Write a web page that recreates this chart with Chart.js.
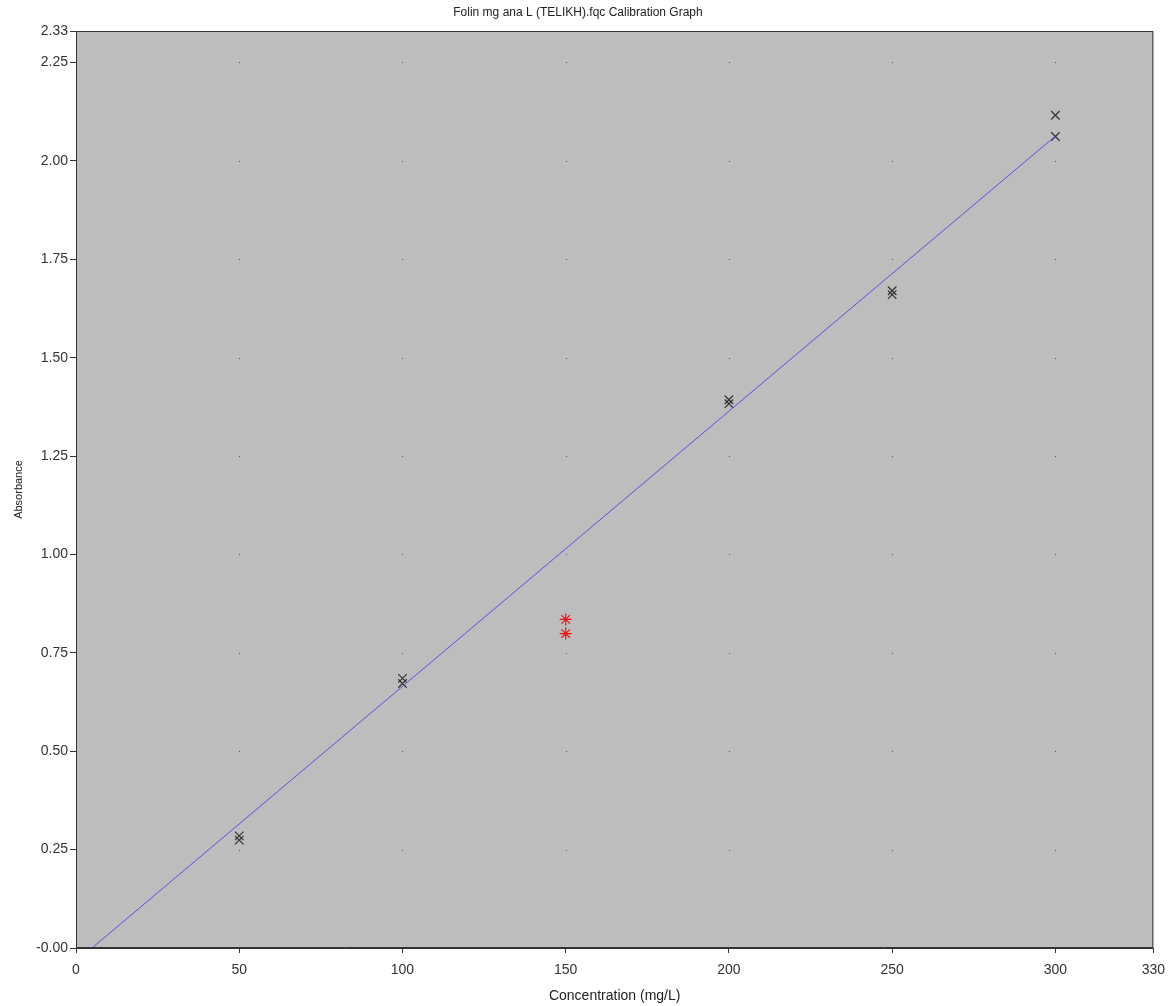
<!DOCTYPE html>
<html>
<head>
<meta charset="utf-8">
<script src="https://cdn.jsdelivr.net/npm/chart.js@4"></script>
<style>
  body { margin: 0; background: #fff; }
  #wrap { width: 1174px; height: 1006px; }
</style>
</head>
<body>
<div id="wrap"><canvas id="calib"></canvas></div>
<script>
// standards (black crosses)
const stdConc = [50, 50, 100, 100, 200, 200, 250, 250, 300, 300];
const stdAbs = [0.285, 0.274, 0.685, 0.672, 1.393, 1.383, 1.67, 1.66, 2.116, 2.062];

// outlier standards (red stars)
const outConc = [150, 150];
const outAbs = [0.835, 0.799];

// calibration line end points
const fitConc = [4.9, 300];
const fitAbs = [0, 2.063];

const xTicks = [0, 50, 100, 150, 200, 250, 300, 330];
const yTicks = [0, 0.25, 0.5, 0.75, 1.0, 1.25, 1.5, 1.75, 2.0, 2.25, 2.33];

const toPoints = (xs, ys) => xs.map((x, i) => ({ x, y: ys[i] }));

const family = 'Liberation Sans, Arial, sans-serif';
const tickFont = { family, size: 14, weight: 'normal' };

// grey plot background + frame + dot grid at tick crossings
const plotArea = {
  id: 'plotArea',
  beforeDatasetsDraw(chart) {
    const { ctx, chartArea: a, scales } = chart;
    ctx.save();
    ctx.fillStyle = '#bdbdbd';
    ctx.fillRect(a.left, a.top, a.right - a.left, a.bottom - a.top);
    ctx.fillStyle = '#555';
    xTicks.slice(1, -1).forEach(xv => {
      yTicks.slice(1, -1).forEach(yv => {
        const px = Math.round(scales.x.getPixelForValue(xv));
        const py = Math.round(scales.y.getPixelForValue(yv));
        ctx.fillRect(px, py, 1, 1);
      });
    });
    ctx.restore();
  },
  afterDraw(chart) {
    const { ctx, chartArea: a } = chart;
    ctx.save();
    ctx.strokeStyle = '#333';
    ctx.lineWidth = 1;
    ctx.strokeRect(a.left + 0.5, a.top + 0.5, a.right - a.left - 1, a.bottom - a.top - 1);
    ctx.restore();
  }
};

new Chart(document.getElementById('calib'), {
  type: 'scatter',
  data: {
    datasets: [
      {
        label: 'Calibration',
        type: 'line',
        data: toPoints(fitConc, fitAbs),
        borderColor: '#5555e6',
        borderWidth: 1,
        pointRadius: 0,
        fill: false
      },
      {
        label: 'Standards',
        data: toPoints(stdConc, stdAbs),
        pointStyle: 'crossRot',
        pointRadius: 6,
        borderColor: '#333',
        borderWidth: 1.2
      },
      {
        label: 'Excluded',
        data: toPoints(outConc, outAbs),
        pointStyle: 'star',
        pointRadius: 6,
        borderColor: '#ee1111',
        borderWidth: 1.2
      }
    ]
  },
  options: {
    responsive: true,
    maintainAspectRatio: false,
    animation: false,
    layout: { padding: { left: 0, right: 18, top: 0, bottom: 0 } },
    plugins: {
      legend: { display: false },
      tooltip: { enabled: false },
      title: {
        display: true,
        text: 'Folin mg ana L (TELIKH).fqc Calibration Graph',
        color: '#222',
        font: { family, size: 12, weight: 'normal' },
        padding: { top: 5, bottom: 11.6 }
      }
    },
    scales: {
      x: {
        type: 'linear',
        min: 0,
        max: 330,
        afterBuildTicks: s => { s.ticks = xTicks.map(v => ({ value: v })); },
        afterFit: s => { s.height = 58; },
        ticks: { color: '#333', font: tickFont, padding: 9, maxRotation: 0, autoSkip: false },
        grid: { drawOnChartArea: false, drawTicks: true, tickLength: 5, color: '#333' },
        border: { color: '#333' },
        title: {
          display: true,
          text: 'Concentration (mg/L)',
          color: '#222',
          font: { family, size: 14, weight: 'normal' },
          padding: { top: 0, bottom: 1 }
        }
      },
      y: {
        type: 'linear',
        min: 0,
        max: 2.33,
        afterBuildTicks: s => { s.ticks = yTicks.map(v => ({ value: v })); },
        afterFit: s => { s.width = 76; },
        ticks: {
          color: '#333',
          font: tickFont,
          padding: 2,
          autoSkip: false,
          callback: v => (v === 0 ? '-0.00' : v.toFixed(2))
        },
        grid: { drawOnChartArea: false, drawTicks: true, tickLength: 6, color: '#333' },
        border: { color: '#333' },
        title: {
          display: true,
          text: 'Absorbance',
          color: '#222',
          font: { family, size: 11, weight: 'normal' },
          padding: { top: 12, bottom: 4 }
        }
      }
    }
  },
  plugins: [plotArea]
});
</script>
</body>
</html>
